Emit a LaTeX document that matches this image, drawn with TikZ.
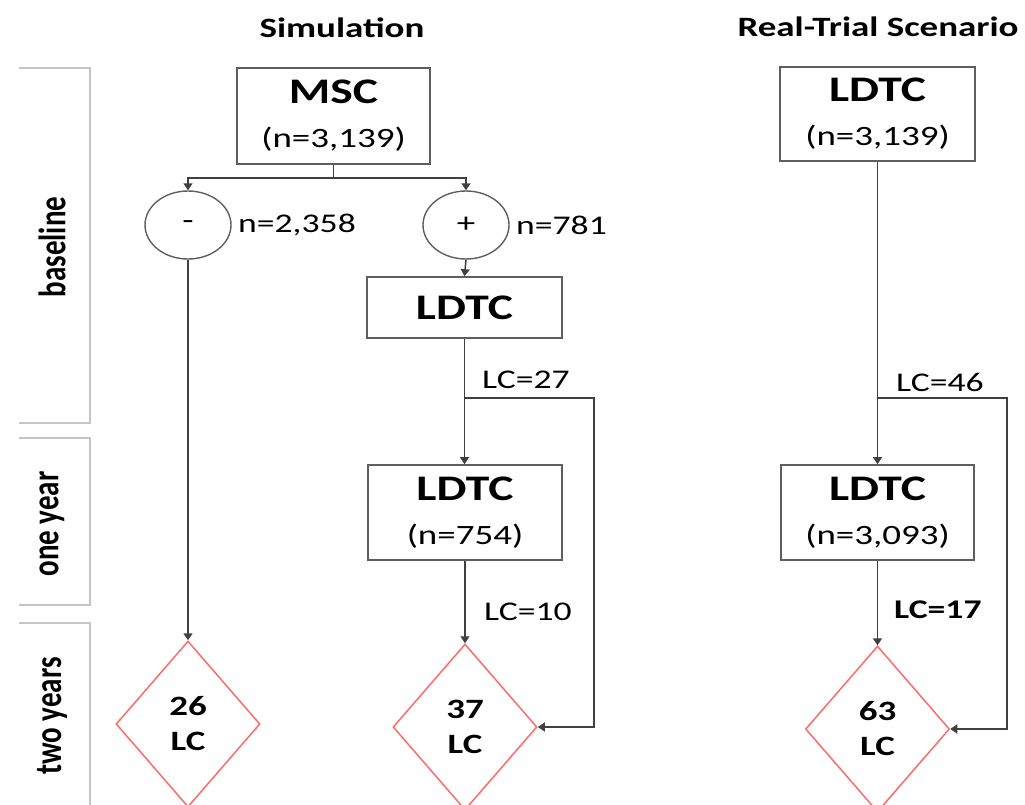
\documentclass[tikz,border=0pt]{standalone}
\usepackage{fontspec}
\setmainfont[FakeStretch=1.32]{Carlito}
\newfontfamily\sidefont{Carlito}
\usetikzlibrary{shapes.geometric,arrows.meta}
\definecolor{boxgray}{HTML}{5E5E5E}
\definecolor{linegray}{HTML}{404040}
\definecolor{sidegray}{HTML}{C4C4C4}
\definecolor{lcred}{HTML}{FF6A6A}
\begin{document}
\begin{tikzpicture}[x=1pt,y=-1pt,
  boxnode/.style={draw=boxgray, line width=1.6pt, align=center, inner sep=0pt,
    font=\fontsize{28}{38}\selectfont},
  ovalnode/.style={ellipse, draw=boxgray, line width=1.4pt, inner sep=0pt,
    minimum width=86pt, minimum height=68pt, font=\fontsize{28}{34}\selectfont},
  lcdiamond/.style={diamond, draw=lcred, line width=1.5pt, inner sep=0pt, align=center,
    minimum width=144pt, minimum height=166pt, font=\fontsize{28}{35}\selectfont\bfseries},
  titlenode/.style={font=\fontsize{28}{34}\selectfont\bfseries, inner sep=0pt},
  lbl/.style={anchor=west, inner sep=0pt, font=\fontsize{27}{32}\selectfont},
  sidebox/.style={draw=sidegray, line width=2.6pt},
  sidelbl/.style={rotate=90, inner sep=0pt, font=\sidefont\fontsize{29}{34}\selectfont\bfseries},
  conn/.style={draw=linegray, line width=1.5pt},
  arr/.style={conn, -{Triangle[width=9pt,length=7pt]}}
]
\useasboundingbox (0,0) rectangle (1025,804);
\newcommand\bigword[1]{{\fontsize{36}{38}\selectfont\bfseries #1}}

% side stage boxes
\draw[sidebox] (19,68) -- (90,68) -- (90,423) -- (19,423);
\draw[sidebox] (19,438) -- (90,438) -- (90,605) -- (19,605);
\draw[sidebox] (19,623) -- (90,623) -- (90,810);
\node[sidelbl] (sbase) at (52,247) {\scalebox{1}[1.32]{baseline}};
\node[sidelbl] (syear) at (52,524) {\scalebox{1}[1.32]{one year}};
\node[sidelbl] (stwo) at (52,716) {\scalebox{1}[1.32]{two years}};

% titles
\node[titlenode] (tsim) at (342,28) {Simulation};
\node[titlenode] (treal) at (878,27) {Real-Trial Scenario};

% simulation column
\node[boxnode, minimum width=193pt, minimum height=96pt] (msc) at (333.5,116)
  {\bigword{MSC}\\[6pt](n=3,139)};
\node[ovalnode] (minus) at (188,225) {-};
\node[ovalnode] (plus) at (466,225) {+};
\node[lbl] (nminus) at (238,225) {n=2,358};
\node[lbl] (nplus) at (516,225) {n=781};
\node[boxnode, minimum width=195pt, minimum height=61pt] (ldtcA) at (464.5,307.5)
  {\bigword{LDTC}};
\node[boxnode, minimum width=194pt, minimum height=95pt] (ldtcB) at (465,512.5)
  {\bigword{LDTC}\\[6pt](n=754)};
\node[lcdiamond] (d26) at (188,724) {26\\LC};
\node[lcdiamond] (d37) at (465,727) {37\\LC};
\node[lbl] (lc27) at (482,380) {LC=27};
\node[lbl] (lc10) at (484,612) {LC=10};

\coordinate (j1) at (333.5,178);
\draw[conn] (msc.south) -- (j1);
\draw[arr] (j1) -| (minus.north);
\draw[arr] (j1) -| (plus.north);
\draw[arr] (minus.south) -- (d26.north);
\draw[arr] (plus.south) -- (ldtcA.north);
\draw[arr] (ldtcA.south) -- (ldtcA.south |- ldtcB.north);
\coordinate (bA) at (464.5,398);
\coordinate (rA) at (594,398);
\draw[arr] (bA) -- (rA) |- (d37.east);
\draw[arr] (ldtcB.south) -- (d37.north);

% real-trial column
\node[boxnode, minimum width=195pt, minimum height=94pt] (ldtcR) at (877.5,114)
  {\bigword{LDTC}\\[6pt](n=3,139)};
\node[boxnode, minimum width=193pt, minimum height=95pt] (ldtcR2) at (877.5,512.5)
  {\bigword{LDTC}\\[6pt](n=3,093)};
\node[lcdiamond] (d63) at (877.5,729) {63\\LC};
\node[lbl] (lc46) at (896,382) {LC=46};
\node[lbl, font=\fontsize{27}{32}\selectfont\bfseries] (lc17) at (894,610) {LC=17};

\draw[arr] (ldtcR.south) -- (ldtcR2.north);
\coordinate (bR) at (877.5,398);
\coordinate (rR) at (1007,398);
\draw[arr] (bR) -- (rR) |- (d63.east);
\draw[arr] (ldtcR2.south) -- (d63.north);
\end{tikzpicture}
\end{document}
